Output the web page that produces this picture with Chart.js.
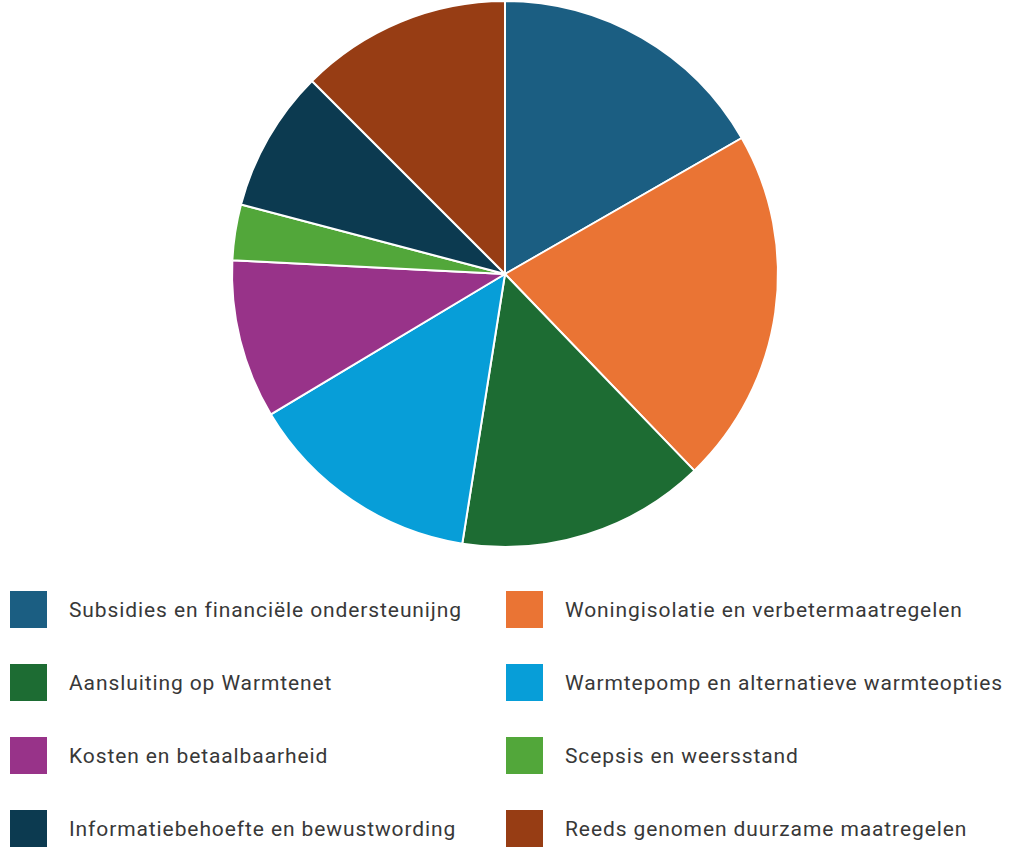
<!DOCTYPE html>
<html>
<head>
<meta charset="utf-8">
<script src="https://cdn.jsdelivr.net/npm/chart.js@4.4.0/dist/chart.umd.min.js"></script>
<style>
  body { margin: 0; background: #fff; }
  #wrap { position: relative; width: 1013px; height: 853px; }
  #chartBox { position: absolute; left: 0; top: 0; width: 1010px; height: 548px; }
  #legend { position: absolute; left: 10px; top: 591px; width: 1003px; }
  .item { position: absolute; height: 37px; display: flex; align-items: center;
          font-family: Roboto, sans-serif; font-size: 21px; letter-spacing: 0.9px; color: #383838; white-space: nowrap; }
  .box { width: 37px; height: 37px; margin-right: 22px; flex: none; }
</style>
</head>
<body>
<div id="wrap">
  <div id="chartBox"><canvas id="my-chart"></canvas></div>
  <div id="legend"></div>
</div>
<script>
const categories = [
  "Subsidies en financiële ondersteunijng",
  "Woningisolatie en verbetermaatregelen",
  "Aansluiting op Warmtenet",
  "Warmtepomp en alternatieve warmteopties",
  "Kosten en betaalbaarheid",
  "Scepsis en weersstand",
  "Informatiebehoefte en bewustwording",
  "Reeds genomen duurzame maatregelen"
];
const shares = [16.7, 21.1, 14.7, 13.9, 9.4, 3.3, 8.4, 12.5];
const colors = ["#1b5e82", "#ea7434", "#1d6c33", "#079ed8", "#983389", "#52a73a", "#0c3a50", "#973d14"];

const ctx = document.getElementById('my-chart').getContext('2d');
const chart = new Chart(ctx, {
  type: 'pie',
  data: {
    labels: categories,
    datasets: [
      {
        data: shares,
        backgroundColor: colors,
        borderColor: '#ffffff',
        borderWidth: 2
      }
    ]
  },
  options: {
    responsive: true,
    maintainAspectRatio: false,
    animation: false,
    layout: { padding: 0 },
    plugins: {
      legend: { display: false },
      tooltip: { enabled: false }
    }
  }
});

// two-column legend, filled row by row
const legend = document.getElementById('legend');
categories.forEach((name, i) => {
  const item = document.createElement('div');
  item.className = 'item';
  item.style.left = (i % 2 === 0 ? 0 : 496) + 'px';
  item.style.top = (Math.floor(i / 2) * 73) + 'px';
  item.innerHTML = '<span class="box" style="background:' + colors[i] + '"></span><span>' + name + '</span>';
  legend.appendChild(item);
});
</script>
</body>
</html>
